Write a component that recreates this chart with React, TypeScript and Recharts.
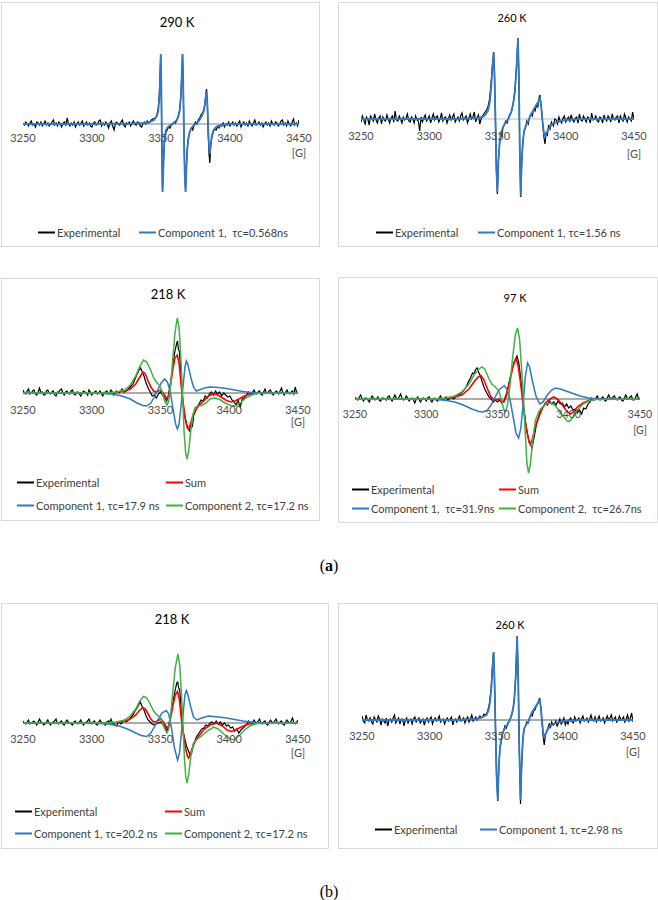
import React from 'react';
import { LineChart, Line, XAxis, YAxis, ReferenceLine, ReferenceDot, Legend } from 'recharts';

type Pts = [number, number][];

// ---------- shared axis data ----------
const fieldTicks = [3250, 3300, 3350, 3400, 3450];
const fieldUnit = '[G]';
const titles = ['290 K', '260 K', '218 K', '97 K', '218 K', '260 K'];

// ---------- series names ----------
const nameExp = 'Experimental';
const nameSum = 'Sum';
const comp1Names = [
  'Component 1,  τc=0.568ns',
  'Component 1, τc=1.56 ns',
  'Component 1, τc=17.9 ns',
  'Component 1,  τc=31.9ns',
  'Component 1, τc=20.2 ns',
  'Component 1, τc=2.98 ns',
];
const comp2Names = ['', '', 'Component 2, τc=17.2 ns', 'Component 2,  τc=26.7ns', 'Component 2, τc=17.2 ns', ''];

// ---------- 290 K ----------
const exp290Left: Pts = [[3250,1],[3251,-1],[3252,2],[3253,0],[3254,-2],[3255,1],[3256,3],[3257,-1],[3258,0],[3259,-3],[3260,2],[3261,1],[3262,-1],[3263,2],[3264,-2],[3265,0],[3266,3],[3267,-1],[3268,1],[3269,-2],[3270,0],[3271,2],[3272,4],[3273,-1],[3274,1],[3275,-2],[3276,2],[3277,0],[3278,-3],[3279,1],[3280,2],[3281,-1],[3282,6],[3283,0],[3284,-2],[3285,1],[3286,-1],[3287,2],[3288,-3],[3289,0],[3290,2],[3291,-1],[3292,1],[3293,3],[3294,-2],[3295,0],[3296,2],[3297,-1],[3298,1],[3299,-2],[3300,-3],[3301,1],[3302,2],[3303,-1],[3304,0],[3305,3],[3306,4],[3307,-2],[3308,1],[3309,-1],[3310,2],[3311,0],[3312,-4],[3313,1],[3314,3],[3315,-2],[3316,-6],[3317,1],[3318,2],[3319,0],[3320,-1],[3321,2],[3322,4],[3323,-1],[3324,-3],[3325,1],[3326,0],[3327,2],[3328,-2],[3329,1],[3330,3],[3331,0],[3332,-1],[3333,2],[3334,1],[3335,-2],[3336,-3],[3337,1],[3338,2],[3339,0],[3340,3],[3341,1],[3342,2],[3343,4]];
const exp290Mid: Pts = [[3344,5],[3346,6],[3347,9],[3348,16],[3348.8,30],[3349.4,52],[3349.8,69],[3350.2,40],[3350.6,-20],[3351.1,-66],[3351.5,-52],[3352,-30],[3352.6,-16],[3353.4,-9],[3354.5,-6],[3355.5,-3],[3356.5,-4],[3357.5,-1],[3358.5,0],[3359.5,2],[3360.5,1],[3361.5,4],[3362.5,8],[3363.5,14],[3364.4,28],[3365,48],[3365.6,70],[3366.1,40],[3366.6,-10],[3367.2,-50],[3367.8,-67],[3368.3,-45],[3369,-25],[3369.8,-14],[3370.8,-8],[3372,-4],[3373,-6],[3374,-1],[3375,2],[3376,0],[3377,4],[3378,6],[3379,9],[3380,11],[3381,14],[3381.8,20],[3382.5,30],[3383,35],[3383.6,20],[3384.2,-10],[3384.8,-30],[3385.4,-39],[3386,-22],[3386.8,-14],[3387.8,-8],[3389,-5]];
const exp290Right: Pts = [[3390,-6],[3391,-2],[3392,-4],[3393,-1],[3394,-2],[3395,1],[3396,-3],[3397,0],[3398,-1],[3399,2],[3400,-2],[3401,0],[3402,2],[3403,-1],[3404,1],[3405,-2],[3406,1],[3407,3],[3408,-3],[3409,0],[3410,2],[3411,-1],[3412,1],[3413,-2],[3414,3],[3415,0],[3416,-2],[3417,1],[3418,4],[3419,-1],[3420,0],[3421,2],[3422,-1],[3423,1],[3424,-3],[3425,0],[3426,2],[3427,-1],[3428,1],[3429,-2],[3430,3],[3431,0],[3432,-1],[3433,2],[3434,1],[3435,-2],[3436,0],[3437,3],[3438,4],[3439,-1],[3440,1],[3441,-2],[3442,3],[3443,0],[3444,-2],[3445,2],[3446,5],[3447,-1],[3448,1],[3449,-2],[3450,4]];
const fit290: Pts = [[3250,0],[3300,0],[3330,0.5],[3338,1],[3342,2],[3345,4],[3347,8],[3348,13],[3348.8,25],[3349.4,48],[3349.8,70],[3350.2,45],[3350.6,-15],[3351.1,-68],[3351.5,-55],[3352,-32],[3352.6,-14],[3353.4,-7],[3354.5,-3.5],[3356,-2],[3358,0],[3360,2],[3361.5,4],[3362.5,7],[3363.5,13],[3364.4,27],[3365,47],[3365.6,70],[3366.1,42],[3366.6,-8],[3367.2,-50],[3367.8,-68],[3368.3,-48],[3369,-27],[3369.8,-15],[3370.8,-8],[3372,-4],[3374,-1],[3376,1],[3378,4],[3380,9],[3381,13],[3381.8,19],[3382.5,28],[3383,33],[3383.6,20],[3384.2,-5],[3384.8,-22],[3385.4,-30],[3386,-20],[3386.8,-12],[3387.8,-7],[3389,-4],[3391,-2],[3395,-1],[3400,0],[3450,0]];

// ---------- 260 K (a) ----------
const exp260aLeft: Pts = [[3250,-3],[3251,3],[3252,-1],[3253,-5],[3254,2],[3255,0],[3256,-6],[3257,3],[3258,1],[3259,-2],[3260,5],[3261,-1],[3262,-4],[3263,1],[3264,3],[3265,-5],[3266,2],[3267,-1],[3268,-2],[3269,4],[3270,0],[3271,-4],[3272,1],[3273,3],[3274,-3],[3275,8],[3276,-1],[3277,-2],[3278,3],[3279,0],[3280,-4],[3281,2],[3282,-1],[3283,1],[3284,5],[3285,-2],[3286,-3],[3287,2],[3288,0],[3289,-4],[3290,3],[3291,-1],[3292,-2],[3293,-12],[3294,2],[3295,-3],[3296,1],[3297,4],[3298,-2],[3299,0],[3300,3],[3301,-4],[3302,1],[3303,5],[3304,-1],[3305,2],[3306,3],[3307,-3],[3308,0],[3309,6],[3310,-2],[3311,1],[3312,2],[3313,-4],[3314,0],[3315,4],[3316,-1],[3317,2],[3318,5],[3319,-3],[3320,0],[3321,2],[3322,-2],[3323,3],[3324,6],[3325,-1],[3326,1],[3327,3],[3328,-4],[3329,0],[3330,5],[3331,0],[3332,2],[3333,7],[3334,-3],[3335,1],[3336,4],[3337,-5],[3338,0],[3339,3]];
const exp260aMid: Pts = [[3340.5,6],[3342,9],[3343,12],[3344.2,20],[3345.3,36],[3346.4,56],[3347.2,67],[3347.8,44],[3348.5,-2],[3349.2,-52],[3349.9,-75],[3350.6,-42],[3351.6,-24],[3352.4,-15],[3353.2,-18],[3354,-8],[3355,-6],[3356,-2],[3357,-4],[3358,1],[3359,5],[3360,6],[3361,12],[3362,20],[3362.8,28],[3363.8,50],[3365,81],[3365.7,40],[3366.3,-30],[3367,-78],[3367.7,-44],[3368.5,-25],[3369.4,-12],[3370.5,-9],[3371.5,-2],[3372.5,-5],[3373.5,2],[3374.5,5],[3375.5,3],[3376.5,10],[3377.5,8],[3378.5,14],[3379.5,12],[3380.3,20],[3381,24],[3382,14],[3383,-3],[3384,-18],[3384.8,-25],[3385.6,-14],[3386.5,-16],[3387.5,-6],[3388.5,-10],[3389.5,-3]];
const exp260aRight: Pts = [[3391,-7],[3392,0],[3393,-1],[3394,-5],[3395,2],[3396,-2],[3397,-4],[3398,1],[3399,3],[3400,-3],[3401,0],[3402,2],[3403,-2],[3404,4],[3405,-1],[3406,-3],[3407,1],[3408,2],[3409,-4],[3410,5],[3411,-1],[3412,-2],[3413,3],[3414,0],[3415,-3],[3416,2],[3417,1],[3418,-4],[3419,6],[3420,-1],[3421,0],[3422,3],[3423,-2],[3424,-3],[3425,2],[3426,1],[3427,-4],[3428,4],[3429,0],[3430,-2],[3431,3],[3432,1],[3433,-3],[3434,5],[3435,0],[3436,-1],[3437,2],[3438,3],[3439,-4],[3440,3],[3441,0],[3442,-2],[3443,5],[3444,1],[3445,-3],[3446,2],[3447,0],[3448,-2],[3449,7],[3450,-1]];
const fit260a: Pts = [[3250,0],[3320,0],[3335,1],[3339,2],[3341,4],[3343,8],[3344.5,18],[3345.5,34],[3346.5,55],[3347.2,66],[3347.8,45],[3348.5,0],[3349.2,-50],[3349.9,-73],[3350.6,-45],[3351.6,-22],[3353,-12],[3354.5,-7],[3356,-3],[3358,0],[3360,7],[3361.5,15],[3362.6,27],[3363.8,48],[3365,80],[3365.7,40],[3366.3,-30],[3367,-77],[3367.7,-45],[3368.5,-24],[3369.4,-13],[3370.5,-7],[3372.3,-3],[3374,3],[3376,8],[3378,13],[3379.7,17],[3381.2,21],[3382,12],[3383,-2],[3384,-14],[3384.7,-18],[3385.5,-16],[3386.5,-12],[3388.2,-8],[3390,-5],[3394,-3],[3400,-1],[3410,0],[3450,0]];

// ---------- 218 K (a) ----------
const exp218aLeft: Pts = [[3250,3],[3251,0],[3252,-1],[3253,2],[3254,4],[3255,-1],[3256,0],[3257,2],[3258,3],[3259,-1],[3260,-2],[3261,1],[3262,5],[3263,0],[3264,1],[3265,-2],[3266,-2],[3267,2],[3268,3],[3269,0],[3270,-1],[3271,1],[3272,2],[3273,-2],[3274,-3],[3275,1],[3276,1],[3277,3],[3278,4],[3279,0],[3280,-2],[3281,1],[3282,2],[3283,0],[3284,-1],[3285,2],[3286,3],[3287,-1],[3288,-2],[3289,1],[3290,1],[3291,-1],[3292,-3],[3293,0],[3294,2],[3295,1],[3296,0],[3297,-2],[3298,3],[3299,1],[3300,-2],[3301,0],[3302,1],[3303,2],[3304,-1],[3305,0],[3306,2],[3307,-1],[3308,-3],[3309,0],[3310,1],[3311,2],[3312,-1],[3313,0],[3314,3],[3315,1],[3316,-2],[3317,0],[3318,2],[3319,1],[3320,0],[3321,2],[3322,4],[3323,1],[3324,1],[3325,2]];
const exp218aMid: Pts = [[3326,3],[3328,6],[3330,9],[3331.5,14],[3333,19],[3334.5,23],[3335.5,25],[3336.5,22],[3338,17],[3339.5,10],[3341,5],[3342.5,1],[3344,-3],[3345.5,-2],[3347,-5],[3348.5,-1],[3350,1],[3351.5,-2],[3353,-4],[3354.5,-8],[3355.5,-4],[3357,8],[3358.5,21],[3360,38],[3361,45],[3361.8,50],[3362.4,52],[3363,44],[3363.8,41],[3364.6,24],[3365.4,5],[3366.5,-12],[3367.8,-24],[3369,-31],[3370.2,-36],[3371.2,-38],[3372.2,-31],[3373.2,-33],[3374.2,-22],[3375.2,-19],[3376.5,-14],[3378,-11],[3379.5,-7],[3381,-8],[3382.5,-3],[3384,-5],[3385.5,-1],[3387,1],[3388.5,-2],[3390,2],[3391.5,-1],[3393,1],[3394.5,-3],[3396,0],[3397.5,-2],[3399,-4],[3400.5,-3],[3402,-7],[3403.5,-9],[3405,-12],[3406.5,-7],[3408,-14],[3409.5,-6],[3411,-5],[3412.5,-2]];
const exp218aRight: Pts = [[3414,1],[3415,-1],[3416,-2],[3417,1],[3418,3],[3419,0],[3420,-1],[3421,1],[3422,2],[3423,-1],[3424,-2],[3425,1],[3426,4],[3427,0],[3428,0],[3429,2],[3430,3],[3431,-1],[3432,-2],[3433,0],[3434,2],[3435,1],[3436,-1],[3437,2],[3438,5],[3439,0],[3440,-2],[3441,1],[3442,3],[3443,0],[3444,-1],[3445,1],[3446,2],[3447,-1],[3448,6],[3449,0],[3450,1]];
const sum218a: Pts = [[3250,0],[3310,0],[3318,0.5],[3324,2],[3328,4],[3332,9],[3335,16],[3337.2,21],[3339,19],[3341,12],[3343,6],[3345,2],[3347,1],[3349,2.5],[3350.5,2.5],[3352,0],[3354.5,-6],[3356,-3],[3357.5,10],[3359,24],[3360.5,35],[3362.2,38],[3363.5,30],[3365,8],[3366.5,-10],[3368,-26],[3369.5,-35],[3370.5,-36],[3372,-30],[3374,-21],[3376.5,-15],[3379,-11],[3382,-7],[3385,-3],[3388,-1],[3391,-1.5],[3394,-4],[3398,-7.5],[3401.5,-9],[3404,-8],[3407,-6],[3411,-3],[3415,-1],[3420,0],[3450,0]];
const c1218a: Pts = [[3250,0],[3300,0],[3315,-1],[3322,-3],[3328,-6],[3333,-10],[3337,-12.5],[3340,-13],[3343,-10],[3345.5,-4],[3348,3],[3350.5,10],[3353,14],[3355,11],[3357,2],[3359,-15],[3361,-31],[3362.3,-36],[3363.5,-31],[3365,-12],[3366.5,8],[3367.8,26],[3368.8,32],[3370,28],[3372,16],[3374,6],[3376,2],[3378,3],[3382,5],[3386,6],[3392,5.5],[3398,4.5],[3404,3],[3410,1.5],[3416,0.5],[3422,0],[3450,0]];
const c2218a: Pts = [[3250,0],[3310,0],[3318,1],[3324,3],[3328,8],[3332,17],[3335,27],[3337.7,33],[3340,31],[3342.5,24],[3345,15],[3347,11],[3349,8],[3351,2],[3353,-8],[3354.7,-12],[3356,-8],[3357.5,10],[3359,35],[3360.5,60],[3362.2,75],[3363.5,66],[3364.8,35],[3366,0],[3367.2,-40],[3368.3,-60],[3369.3,-66],[3370.5,-58],[3372,-38],[3373.5,-22],[3375,-15],[3377,-13],[3380,-12.5],[3383,-10],[3386,-6],[3389.5,-5],[3393,-6.5],[3397,-10],[3401,-12.5],[3404.5,-13],[3408,-10],[3412,-5],[3416,-2],[3420,-0.5],[3450,0]];

// ---------- 97 K ----------
const exp97Left: Pts = [[3250,2],[3251,0],[3252,-1],[3253,2],[3254,4],[3255,0],[3256,-2],[3257,1],[3258,1],[3259,-1],[3260,-3],[3261,0],[3262,3],[3263,1],[3264,-1],[3265,0],[3266,2],[3267,-1],[3268,-2],[3269,1],[3270,1],[3271,0],[3272,-1],[3273,2],[3274,3],[3275,0],[3276,-2],[3277,1],[3278,4],[3279,1],[3280,0],[3281,2],[3282,5],[3283,1],[3284,-1],[3285,0],[3286,3],[3287,1],[3288,-2],[3289,0],[3290,1],[3291,-1],[3292,-4],[3293,0],[3294,2],[3295,-1],[3296,-3],[3297,0],[3298,1],[3299,0],[3300,-2],[3301,1],[3302,2],[3303,-1],[3304,-3],[3305,0],[3306,1],[3307,-1],[3308,-2],[3309,1],[3310,3],[3311,0],[3312,-1],[3313,1],[3314,2],[3315,-1],[3316,0],[3317,1],[3318,2],[3319,0]];
const exp97Mid: Pts = [[3320,1],[3322,4],[3324,5],[3326,8],[3328,12],[3329.5,17],[3331,21],[3332.5,26],[3333.5,25],[3334.5,29],[3335.6,31],[3336.7,27],[3338,23],[3339.5,16],[3341,10],[3342.5,6],[3344,2],[3345.5,0],[3347,-3],[3348.5,-1],[3350,-3],[3351.5,-1],[3353,-4],[3354.5,-2],[3356,4],[3357.5,12],[3359,22],[3360.5,31],[3362,38],[3363.7,43],[3365,36],[3366.3,20],[3367.5,4],[3368.7,-12],[3370,-26],[3371.2,-36],[3372.4,-44],[3373.4,-46],[3374.2,-49],[3375.2,-42],[3376.3,-34],[3377.5,-24],[3379,-17],[3380.5,-10],[3382,-8],[3383.5,-4],[3385,-6],[3386.5,-2],[3388,-5],[3389.5,-3],[3391,-6],[3392.5,-2],[3394,-5],[3395.5,-4],[3397,-8],[3398.5,-5],[3400,-9],[3401.5,-7],[3403,-11],[3404.5,-10],[3406,-14],[3407.5,-11],[3409,-15],[3410.5,-9],[3412,-10],[3413.5,-5],[3415,-3]];
const exp97Right: Pts = [[3416,1],[3417,-1],[3418,-1],[3419,1],[3420,3],[3421,0],[3422,-1],[3423,1],[3424,2],[3425,-1],[3426,-2],[3427,1],[3428,4],[3429,1],[3430,0],[3431,2],[3432,3],[3433,0],[3434,-1],[3435,1],[3436,2],[3437,-1],[3438,-2],[3439,1],[3440,4],[3441,1],[3442,0],[3443,2],[3444,3],[3445,-1],[3446,-1],[3447,2],[3448,5],[3449,0],[3450,1]];
const sum97: Pts = [[3250,0],[3305,0],[3314,0.5],[3320,2],[3325,4],[3330,10],[3334,18],[3336.5,22],[3338.4,23.5],[3340.5,19],[3343,10],[3345,3],[3347,0],[3349,-1],[3351,0],[3353,-2],[3354.5,-3],[3356,2],[3358,14],[3360,27],[3361.8,37],[3363.2,40],[3364.5,33],[3366,18],[3367.5,0],[3369,-18],[3370.5,-32],[3372,-42],[3373,-45],[3374.5,-40],[3376.5,-28],[3379.3,-17],[3382,-8],[3385,-2],[3388,1],[3389.4,2],[3392,0],[3395,-5],[3398,-11],[3401,-15],[3403.5,-13],[3406,-8],[3410,-4],[3414,-1.5],[3418,0],[3450,0]];
const c197: Pts = [[3250,0],[3300,0],[3312,-1],[3320,-3],[3326,-6],[3332,-10],[3337,-12.5],[3340,-13],[3343,-11],[3345.5,-6],[3348,1],[3351,9],[3354.8,13.5],[3357,9],[3359,-2],[3361,-18],[3363,-34],[3364.8,-39],[3366.3,-30],[3368,-5],[3369.5,22],[3371.1,36],[3372.5,32],[3374.5,18],[3377,3],[3379.6,-5],[3382,-3],[3385,4],[3388,9],[3390.6,11],[3394,10],[3398,8],[3403,5.5],[3408,3],[3414,1],[3420,0],[3450,0]];
const c297: Pts = [[3250,0],[3305,0],[3314,1],[3320,3],[3325,7],[3330,15],[3334,25],[3337,30],[3339.1,32],[3341,30],[3343.5,22],[3346,15],[3348.5,12],[3351,8],[3353,-2],[3354.5,-11],[3355.5,-13],[3357,-6],[3358.5,10],[3360.5,40],[3362.5,64],[3364.1,71],[3365.5,60],[3367,28],[3368.3,0],[3369.5,-35],[3370.7,-65],[3371.8,-74],[3373,-66],[3374.5,-45],[3376.5,-22],[3378.8,-13],[3381,-9],[3384,-5],[3387,-4],[3390,-6],[3393,-11],[3396,-17],[3399,-22],[3400.5,-22.5],[3403,-18],[3406,-11],[3410,-5],[3414,-2],[3418,-0.5],[3450,0]];

// ---------- 218 K (b) ----------
const exp218bLeft: Pts = [[3250,2],[3251,0],[3252,-1],[3253,1],[3254,3],[3255,-1],[3256,0],[3257,1],[3258,2],[3259,0],[3260,-2],[3261,1],[3262,4],[3263,1],[3264,0],[3265,-2],[3266,-1],[3267,1],[3268,3],[3269,0],[3270,-2],[3271,0],[3272,1],[3273,2],[3274,4],[3275,0],[3276,-1],[3277,1],[3278,2],[3279,-1],[3280,-2],[3281,1],[3282,3],[3283,1],[3284,0],[3285,-1],[3286,-2],[3287,1],[3288,2],[3289,0],[3290,-1],[3291,1],[3292,3],[3293,0],[3294,-2],[3295,0],[3296,1],[3297,2],[3298,4],[3299,0],[3300,-1],[3301,1],[3302,2],[3303,-1],[3304,-2],[3305,1],[3306,3],[3307,1],[3308,0],[3309,-1],[3310,-2],[3311,1],[3312,2],[3313,1],[3314,4],[3315,0],[3316,-1],[3317,-2],[3318,-3],[3319,0],[3320,1],[3321,-1],[3322,0],[3323,2],[3324,3],[3325,1]];
const exp218bMid: Pts = [[3326,2],[3328,5],[3330,8],[3331.5,12],[3333,15],[3334.5,19],[3335.3,21],[3336.5,17],[3338,13],[3339.5,7],[3341,3],[3342.5,1],[3344,-1],[3345.5,-2],[3347,-1],[3348.5,0],[3350,1],[3351.5,-1],[3353,-3],[3354.5,-8],[3355.5,-5],[3357,5],[3358.5,16],[3360,28],[3361,35],[3361.8,40],[3362.5,41],[3363.2,35],[3364,33],[3364.8,18],[3365.6,3],[3366.7,-10],[3368,-18],[3369.2,-24],[3370.4,-28],[3371.5,-32],[3372.6,-30],[3373.6,-24],[3374.6,-20],[3375.8,-15],[3377,-12],[3378.5,-9],[3380,-6],[3381.5,-5],[3383,-2],[3384.5,-3],[3386,0],[3387.5,1],[3389,-1],[3390.5,2],[3392,-1],[3393.5,1],[3395,-2],[3396.5,0],[3398,-3],[3399.5,-2],[3401,-5],[3402.5,-4],[3404,-8],[3405.5,-6],[3407,-10],[3408.5,-7],[3410,-5],[3411.5,-3],[3413,-1]];
const exp218bRight: Pts = [[3414,2],[3415,0],[3416,-1],[3417,1],[3418,3],[3419,1],[3420,0],[3421,2],[3422,4],[3423,0],[3424,-1],[3425,1],[3426,2],[3427,-1],[3428,-2],[3429,1],[3430,3],[3431,1],[3432,0],[3433,2],[3434,4],[3435,0],[3436,-1],[3437,1],[3438,2],[3439,-1],[3440,-2],[3441,1],[3442,3],[3443,1],[3444,0],[3445,2],[3446,5],[3447,0],[3448,-1],[3449,1],[3450,3]];
const sum218b: Pts = [[3250,0],[3310,0],[3318,0.5],[3324,2],[3328,4],[3332,8],[3335,13],[3337,15.5],[3339,14],[3341,9],[3343,4],[3345,1],[3347,1.5],[3349,3],[3350.5,4],[3352,1],[3354.7,-5],[3356,-3],[3357.5,6],[3359,17],[3360.7,28],[3362.4,31.5],[3363.7,24],[3365,6],[3366.5,-10],[3368,-24],[3369.5,-33],[3370.5,-35],[3372,-30],[3374,-21],[3376.5,-16],[3379,-11],[3382,-6],[3386,-2],[3391,0],[3395,-3],[3398.5,-7],[3401.5,-8.5],[3404.5,-7],[3408,-4.5],[3412,-2],[3416,-0.5],[3420,0],[3450,0]];
const c1218b: Pts = [[3250,0],[3300,0],[3312,-1],[3320,-3],[3326,-6],[3332,-10],[3336,-12.5],[3340,-13.5],[3343,-10],[3345.5,-4],[3348,3],[3351,10],[3354.2,12.5],[3356,9],[3358,-5],[3360,-24],[3362.4,-37],[3363.8,-30],[3365.2,-10],[3366.5,10],[3367.8,28],[3368.8,32.5],[3370,28],[3372,16],[3374,6],[3376.5,3],[3380,5],[3385,7],[3392,6],[3398,5],[3404,3.5],[3410,2],[3416,1],[3422,0],[3450,0]];
const c2218b: Pts = [[3250,0],[3310,0],[3318,1],[3324,3],[3328,7],[3332,14],[3335,22],[3337.7,26.5],[3340,25],[3342.5,19],[3345,12],[3347.5,8],[3350,5],[3352.5,-4],[3354.7,-10],[3356,-6],[3357.5,10],[3359,32],[3360.8,56],[3362.7,69],[3364,58],[3365.2,30],[3366.3,0],[3367.4,-35],[3368.4,-54],[3369.3,-60],[3370.5,-52],[3372,-34],[3374,-20],[3376.5,-16],[3380,-13],[3384,-8],[3388.6,-4],[3392,-6],[3396,-11],[3400,-15.5],[3403.2,-17],[3407,-13],[3411,-7],[3415,-3],[3420,-0.5],[3450,0]];

// ---------- 260 K (b) ----------
const exp260bLeft: Pts = [[3250,4],[3251,-1],[3252,-3],[3253,5],[3254,0],[3255,-1],[3256,2],[3257,-2],[3258,-4],[3259,3],[3260,0],[3261,-2],[3262,4],[3263,1],[3264,-5],[3265,1],[3266,-1],[3267,-3],[3268,2],[3269,-6],[3270,0],[3271,1],[3272,-2],[3273,2],[3274,5],[3275,-3],[3276,0],[3277,2],[3278,-4],[3279,1],[3280,1],[3281,-6],[3282,0],[3283,2],[3284,-3],[3285,0],[3286,1],[3287,-4],[3288,1],[3289,3],[3290,-2],[3291,0],[3292,2],[3293,-3],[3294,-1],[3295,1],[3296,-5],[3297,0],[3298,2],[3299,-2],[3300,1],[3301,3],[3302,-4],[3303,0],[3304,2],[3305,-1],[3306,1],[3307,4],[3308,-2],[3309,0],[3310,1],[3311,-4],[3312,0],[3313,2],[3314,-1],[3315,1],[3316,3],[3317,-5],[3318,0],[3319,1],[3320,-2],[3321,1],[3322,4],[3323,-1],[3324,0],[3325,2],[3326,-3],[3327,1],[3328,3],[3329,-2],[3330,1],[3331,5],[3332,-1],[3333,1],[3334,3],[3335,0],[3336,2],[3337,4],[3338,2],[3339,3]];
const exp260bMid: Pts = [[3340,6],[3341.5,5],[3342.8,9],[3344,16],[3345.2,30],[3346.3,55],[3347.1,68],[3347.7,45],[3348.4,0],[3349.3,-55],[3350.2,-81],[3350.9,-50],[3351.8,-28],[3352.7,-22],[3353.6,-14],[3354.5,-11],[3355.5,-6],[3356.5,-8],[3357.6,-3],[3358.6,-1],[3359.6,2],[3360.6,6],[3361.6,12],[3362.5,22],[3363.5,45],[3364.5,84],[3365.3,40],[3366.1,-30],[3367,-84],[3367.8,-45],[3368.7,-20],[3369.6,-9],[3370.6,-6],[3371.6,-2],[3372.6,-3],[3373.6,2],[3374.6,5],[3375.6,4],[3376.6,9],[3377.6,10],[3378.6,14],[3379.6,16],[3380.4,19],[3381.1,22],[3382,12],[3383,-5],[3383.8,-18],[3384.5,-25],[3385.3,-15],[3386.2,-12],[3387.2,-8],[3388.2,-4],[3389.2,-7]];
const exp260bRight: Pts = [[3390,-2],[3391,-5],[3392,-4],[3393,-1],[3394,-6],[3395,-3],[3396,1],[3397,-4],[3398,-2],[3399,2],[3400,-5],[3401,-1],[3402,-4],[3403,0],[3404,2],[3405,-2],[3406,-3],[3407,3],[3408,-1],[3409,0],[3410,2],[3411,-3],[3412,1],[3413,4],[3414,-1],[3415,0],[3416,2],[3417,-2],[3418,1],[3419,5],[3420,0],[3421,-1],[3422,3],[3423,-2],[3424,1],[3425,4],[3426,-1],[3427,0],[3428,2],[3429,-3],[3430,1],[3431,4],[3432,0],[3433,2],[3434,5],[3435,-1],[3436,1],[3437,3],[3438,-2],[3439,0],[3440,4],[3441,0],[3442,1],[3443,3],[3444,-2],[3445,1],[3446,5],[3447,-1],[3448,2],[3449,7],[3450,-2]];
const fit260b: Pts = [[3250,0],[3320,0],[3335,1],[3339,3],[3341.9,5],[3343.5,10],[3344.5,18],[3345.6,34],[3346.5,55],[3347.1,68],[3347.7,45],[3348.4,0],[3349.3,-55],[3350.2,-80],[3350.9,-48],[3351.8,-28],[3352.7,-20],[3354,-12],[3355.1,-9],[3356.5,-6],[3357.6,-4],[3359,0],[3360,3],[3361,8],[3361.8,14],[3362.5,23],[3363.5,45],[3364.5,83],[3365.3,40],[3366.1,-30],[3367,-80],[3367.8,-45],[3368.7,-20],[3369.5,-10],[3370.2,-7],[3371.5,-4],[3372.7,-2],[3374,3],[3375.1,7],[3377,11],[3378.8,15],[3380.2,18],[3381.2,20],[3382,12],[3383,-3],[3383.8,-13],[3384.4,-17],[3385.3,-15],[3386.5,-11],[3388.6,-6],[3391,-4],[3396,-2],[3400,-1],[3410,0],[3450,0]];

const exp290 = [...exp290Left, ...exp290Mid, ...exp290Right];
const exp260a = [...exp260aLeft, ...exp260aMid, ...exp260aRight];
const exp218a = [...exp218aLeft, ...exp218aMid, ...exp218aRight];
const exp97 = [...exp97Left, ...exp97Mid, ...exp97Right];
const exp218b = [...exp218bLeft, ...exp218bMid, ...exp218bRight];
const exp260b = [...exp260bLeft, ...exp260bMid, ...exp260bRight];

// ---------- styling ----------
const FONT = "Lato, 'Open Sans', sans-serif";
const BLACK = '#000000';
const BLUE = '#3178c6';
const RED = '#ff0000';
const GREEN = '#3fb23f';

type Series = { name: string; color: string; width: number; data: Pts };
type LegendItem = { name: string; color: string; x: number; y: number };
type PanelCfg = {
  box: [number, number, number, number];
  margin: { top: number; right: number; bottom: number; left: number };
  title: string;
  titleAt: [number, number];
  titleSize: number;
  axisColor: string;
  tickGap: number;
  unitGap: number;
  tickSize: number;
  series: Series[];
  legend: LegendItem[];
};

const toPts = (a: Pts) => a.map(([g, v]) => ({ g, v }));

const panels: PanelCfg[] = [
  {
    box: [1, 2, 319, 245], margin: { top: 22, right: 21, bottom: 23, left: 22 },
    title: titles[0], titleAt: [176, 20], titleSize: 13, axisColor: '#7f7f7f',
    tickGap: 10, unitGap: 25, tickSize: 11,
    series: [
      { name: nameExp, color: BLACK, width: 1.2, data: exp290 },
      { name: comp1Names[0], color: BLUE, width: 1.8, data: fit290 },
    ],
    legend: [
      { name: nameExp, color: BLACK, x: 56, y: 230 },
      { name: comp1Names[0], color: BLUE, x: 157, y: 230 },
    ],
  },
  {
    box: [338, 2, 320, 245], margin: { top: 17, right: 24, bottom: 28, left: 23 },
    title: titles[1], titleAt: [174, 15], titleSize: 11, axisColor: '#bfbfbf',
    tickGap: 13, unitGap: 31, tickSize: 11,
    series: [
      { name: nameExp, color: BLACK, width: 1.2, data: exp260a },
      { name: comp1Names[1], color: BLUE, width: 1.8, data: fit260a },
    ],
    legend: [
      { name: nameExp, color: BLACK, x: 57, y: 230 },
      { name: comp1Names[1], color: BLUE, x: 159, y: 230 },
    ],
  },
  {
    box: [1, 278, 319, 243], margin: { top: 15, right: 22, bottom: 28, left: 22 },
    title: titles[2], titleAt: [167, 16], titleSize: 13, axisColor: '#595959',
    tickGap: 13, unitGap: 25, tickSize: 11,
    series: [
      { name: nameExp, color: BLACK, width: 1.2, data: exp218a },
      { name: nameSum, color: RED, width: 1.6, data: sum218a },
      { name: comp1Names[2], color: BLUE, width: 1.5, data: c1218a },
      { name: comp2Names[2], color: GREEN, width: 1.5, data: c2218a },
    ],
    legend: [
      { name: nameExp, color: BLACK, x: 35, y: 204 },
      { name: nameSum, color: RED, x: 184, y: 204 },
      { name: comp1Names[2], color: BLUE, x: 35, y: 227 },
      { name: comp2Names[2], color: GREEN, x: 184, y: 227 },
    ],
  },
  {
    box: [338, 277, 320, 246], margin: { top: 22, right: 18, bottom: 24, left: 17 },
    title: titles[3], titleAt: [177, 20], titleSize: 11, axisColor: '#595959',
    tickGap: 12, unitGap: 28, tickSize: 10.5,
    series: [
      { name: nameExp, color: BLACK, width: 1.2, data: exp97 },
      { name: nameSum, color: RED, width: 1.6, data: sum97 },
      { name: comp1Names[3], color: BLUE, width: 1.5, data: c197 },
      { name: comp2Names[3], color: GREEN, width: 1.5, data: c297 },
    ],
    legend: [
      { name: nameExp, color: BLACK, x: 33, y: 212 },
      { name: nameSum, color: RED, x: 180, y: 212 },
      { name: comp1Names[3], color: BLUE, x: 33, y: 231 },
      { name: comp2Names[3], color: GREEN, x: 180, y: 231 },
    ],
  },
  {
    box: [1, 603, 328, 246], margin: { top: 20, right: 31, bottom: 26, left: 22 },
    title: titles[4], titleAt: [171, 16], titleSize: 13, axisColor: '#595959',
    tickGap: 12, unitGap: 26, tickSize: 11,
    series: [
      { name: nameExp, color: BLACK, width: 1.2, data: exp218b },
      { name: nameSum, color: RED, width: 1.6, data: sum218b },
      { name: comp1Names[4], color: BLUE, width: 1.5, data: c1218b },
      { name: comp2Names[4], color: GREEN, width: 1.5, data: c2218b },
    ],
    legend: [
      { name: nameExp, color: BLACK, x: 33, y: 208 },
      { name: nameSum, color: RED, x: 183, y: 208 },
      { name: comp1Names[4], color: BLUE, x: 33, y: 230 },
      { name: comp2Names[4], color: GREEN, x: 183, y: 230 },
    ],
  },
  {
    box: [338, 603, 320, 246], margin: { top: 17, right: 25, bottom: 29, left: 24 },
    title: titles[5], titleAt: [172, 21], titleSize: 11, axisColor: '#595959',
    tickGap: 12, unitGap: 28, tickSize: 11,
    series: [
      { name: nameExp, color: BLACK, width: 1.2, data: exp260b },
      { name: comp1Names[5], color: BLUE, width: 1.8, data: fit260b },
    ],
    legend: [
      { name: nameExp, color: BLACK, x: 56, y: 226 },
      { name: comp1Names[5], color: BLUE, x: 161, y: 226 },
    ],
  },
];

function LegendBox({ items, width }: { items: LegendItem[]; width: number }) {
  return (
    <div style={{ position: 'relative', width, height: 0 }}>
      {items.map((it) => (
        <div
          key={it.name + it.x + it.y}
          style={{
            position: 'absolute', left: it.x - 19, top: it.y, transform: 'translateY(-50%)',
            display: 'flex', alignItems: 'center', whiteSpace: 'pre',
            fontFamily: FONT, fontSize: 11, color: '#404040', lineHeight: '13px',
          }}
        >
          <span style={{ display: 'inline-block', width: 17, height: 0, borderTop: `2px solid ${it.color}`, marginRight: 2 }} />
          <span>{it.name}</span>
        </div>
      ))}
    </div>
  );
}

function Panel({ cfg }: { cfg: PanelCfg }) {
  const [L, T, W, H] = cfg.box;
  return (
    <div style={{ position: 'absolute', left: L, top: T, width: W, height: H, boxShadow: 'inset 0 0 0 1px #d9d9d9' }}>
      <LineChart width={W} height={H} margin={cfg.margin}>
        <XAxis type="number" dataKey="g" domain={[3250, 3450]} ticks={fieldTicks} hide allowDataOverflow />
        <YAxis type="number" domain={[-100, 100]} hide allowDataOverflow />
        <ReferenceLine y={0} stroke={cfg.axisColor} strokeWidth={1} />
        {cfg.series.map((s) => (
          <Line
            key={s.name}
            name={s.name}
            data={toPts(s.data)}
            dataKey="v"
            type="linear"
            stroke={s.color}
            strokeWidth={s.width}
            dot={false}
            activeDot={false}
            isAnimationActive={false}
          />
        ))}
        {fieldTicks.map((t) => (
          <ReferenceDot
            key={t}
            x={t}
            y={0}
            r={0}
            fill="none"
            stroke="none"
            label={{ value: String(t), position: 'bottom', offset: cfg.tickGap, fontSize: cfg.tickSize, fill: '#4d4d4d', fontFamily: FONT }}
          />
        ))}
        <ReferenceDot
          x={3450}
          y={0}
          r={0}
          fill="none"
          stroke="none"
          label={{ value: fieldUnit, position: 'bottom', offset: cfg.unitGap, fontSize: cfg.tickSize, fill: '#4d4d4d', fontFamily: FONT }}
        />
        <Legend
          layout="horizontal"
          verticalAlign="middle"
          align="center"
          wrapperStyle={{ left: 0, top: 0, width: W, height: 0 }}
          content={() => <LegendBox items={cfg.legend} width={W} />}
        />
      </LineChart>
      <div
        style={{
          position: 'absolute', left: cfg.titleAt[0], top: cfg.titleAt[1], transform: 'translate(-50%,-50%)',
          fontFamily: FONT, fontSize: cfg.titleSize, color: '#000', whiteSpace: 'nowrap', lineHeight: 1,
        }}
      >
        {cfg.title}
      </div>
    </div>
  );
}

export default function App() {
  return (
    <div style={{ position: 'absolute', left: 0, top: 0, width: 658, height: 900, background: '#fff', overflow: 'hidden' }}>
      {panels.map((p, i) => (
        <Panel key={i} cfg={p} />
      ))}
      <div style={{ position: 'absolute', left: 329, top: 566, transform: 'translate(-50%,-50%)', fontFamily: "'Liberation Serif', serif", fontSize: 16 }}>
        (<b>a</b>)
      </div>
      <div style={{ position: 'absolute', left: 329, top: 892, transform: 'translate(-50%,-50%)', fontFamily: "'Liberation Serif', serif", fontSize: 16 }}>
        (b)
      </div>
    </div>
  );
}
